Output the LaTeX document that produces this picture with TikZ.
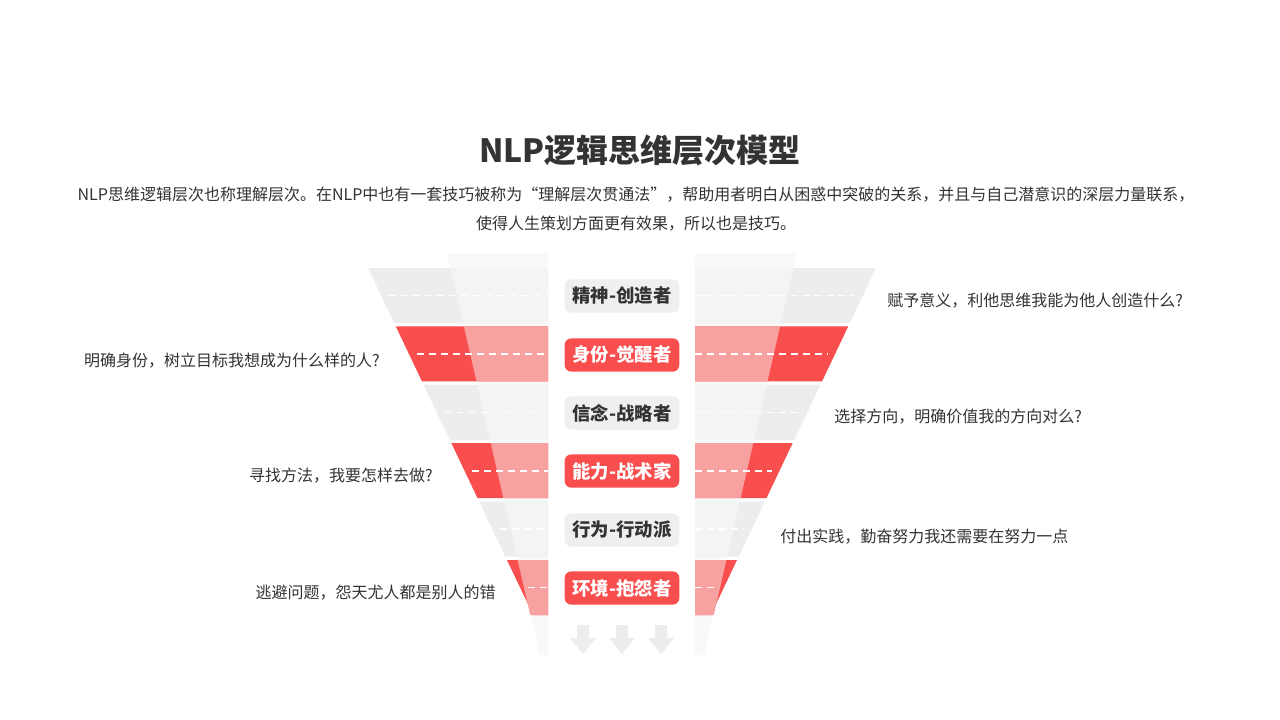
\documentclass[tikz,border=0pt]{standalone}
\usepackage{fontspec}
\setmainfont{Noto Sans CJK SC}
\usetikzlibrary{positioning}
\definecolor{txtdark}{HTML}{333333}
\definecolor{redA}{HTML}{F84E4E}
\definecolor{redB}{HTML}{F8A1A1}
\definecolor{grayA}{HTML}{ECEDEF}
\definecolor{grayB}{HTML}{F3F4F5}
\definecolor{grayC}{HTML}{F9F9FA}
\definecolor{lblgray}{HTML}{EEEFF1}
\begin{document}
\begin{tikzpicture}[x=0.75pt,y=-0.75pt]
\tikzstyle{lvl}=[shape=rectangle, rounded corners=5pt, minimum width=86pt, minimum height=25pt, inner sep=0pt, font=\fontsize{13.8}{15}\selectfont\bfseries]
\tikzstyle{lvlg}=[lvl, fill=lblgray, text=txtdark]
\tikzstyle{lvlr}=[lvl, fill=redA, text=white]
\tikzstyle{side}=[font=\fontsize{12}{14}\selectfont, text=txtdark, inner sep=0pt]
\tikzstyle{dashw}=[white, line width=1.2pt, dash pattern=on 5pt off 4pt]
\fill[white] (0,0) rectangle (1280,720);
%
\node[font=\fontsize{24}{29}\selectfont\bfseries, text=txtdark](title) at (640,150){NLP逻辑思维层次模型};
\node[font=\fontsize{12}{21.5}\selectfont, text=txtdark, align=center](intro) at (636,209){NLP思维逻辑层次也称理解层次。在NLP中也有一套技巧被称为“理解层次贯通法”，帮助用者明白从困惑中突破的关系，并且与自己潜意识的深层力量联系，\\使得人生策划方面更有效果，所以也是技巧。};
%
% faint back funnel
\fill[grayC] (447,253) -- (548,253) -- (548,655) -- (540,655) -- cycle;
\fill[grayC] (1244-447,253) -- (695,253) -- (695,655) -- (1244-540,655) -- cycle;
%
\foreach \i/\ca/\cb in {0/grayA/grayB,1/redA/redB,2/grayA/grayB,3/redA/redB,4/grayA/grayB,5/redA/redB}{
  \pgfmathsetmacro{\yt}{268+\i*58.4}
  \pgfmathsetmacro{\yb}{\yt+55}
  \pgfmathsetmacro{\ym}{\yt+27.5}
  \pgfmathsetmacro{\ot}{368+(\yt-268)*0.476}
  \pgfmathsetmacro{\ob}{368+(\yb-268)*0.476}
  \pgfmathsetmacro{\om}{368+(\ym-268)*0.476}
  \pgfmathsetmacro{\it}{447+(\yt-253)*0.23}
  \pgfmathsetmacro{\ib}{447+(\yb-253)*0.23}
  \fill[\ca] (\ot,\yt) -- (548,\yt) -- (548,\yb) -- (\ob,\yb) -- cycle;
  \fill[\cb] (\it,\yt) -- (548,\yt) -- (548,\yb) -- (\ib,\yb) -- cycle;
  \fill[\ca] (1244-\ot,\yt) -- (695,\yt) -- (695,\yb) -- (1244-\ob,\yb) -- cycle;
  \fill[\cb] (1244-\it,\yt) -- (695,\yt) -- (695,\yb) -- (1244-\ib,\yb) -- cycle;
  \draw[dashw] (\om+8,\ym) -- (548,\ym);
  \draw[dashw] (695,\ym) -- (1244-\om-8,\ym);
}
%
\node[lvlg](spirit) at (622,296){精神-创造者};
\node[lvlr](ident) at (622,355){身份-觉醒者};
\node[lvlg](belief) at (622,413){信念-战略者};
\node[lvlr](abil) at (622,471){能力-战术家};
\node[lvlg](behav) at (622,530){行为-行动派};
\node[lvlr](envir) at (622,588){环境-抱怨者};
%
\node[side, anchor=west](spiritq) at (887,301){赋予意义，利他思维我能为他人创造什么?};
\node[side, anchor=east](identq) at (380,361){明确身份，树立目标我想成为什么样的人?};
\node[side, anchor=west](beliefq) at (834,417){选择方向，明确价值我的方向对么?};
\node[side, anchor=east](abilq) at (433,476){寻找方法，我要怎样去做?};
\node[side, anchor=west](behavq) at (780,537){付出实践，勤奋努力我还需要在努力一点};
\node[side, anchor=east](envirq) at (496,593){逃避问题，怨天尤人都是别人的错};
%
\foreach \ax in {583,622,661}{
  \fill[grayA] (\ax-6,625) -- (\ax+6,625) -- (\ax+6,638) -- (\ax+13,638) -- (\ax,654) -- (\ax-13,638) -- (\ax-6,638) -- cycle;
}
%
\end{tikzpicture}
\end{document}
